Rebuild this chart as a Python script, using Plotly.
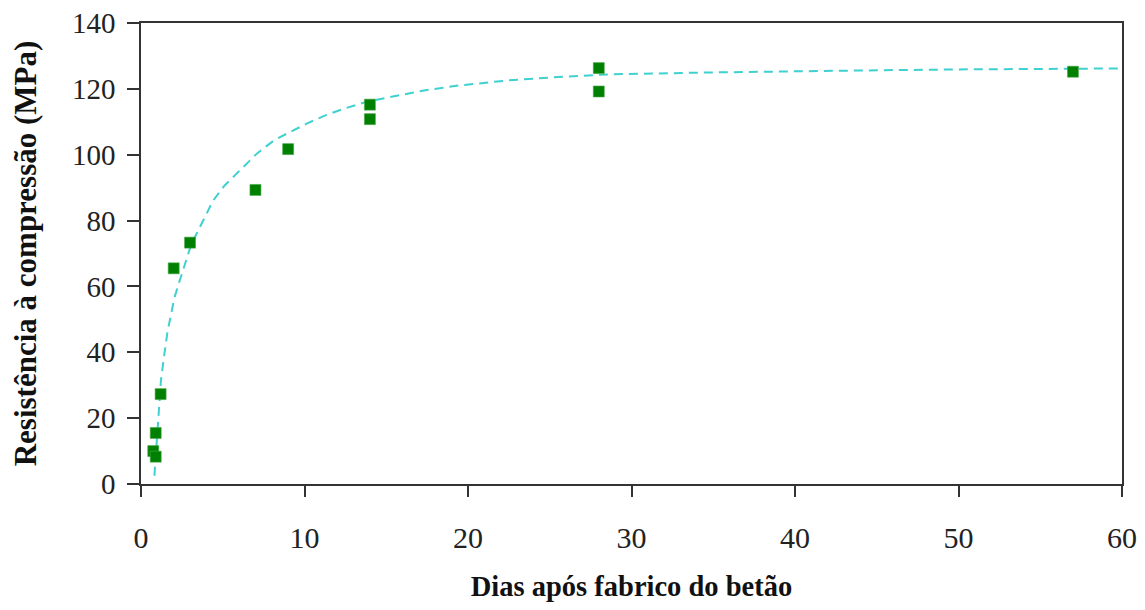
import plotly.graph_objects as go

# Measured data points
dias = [0.75, 0.9, 0.9, 1.2, 2, 3, 7, 9, 14, 14, 28, 28, 57]
resistencia = [10, 8.3, 15.5, 27.3, 65.5, 73.3, 89.3, 101.7, 115.2, 110.8, 126.3, 119.2, 125.2]

# Fitted trend curve
curva_x = [0.82, 0.98, 1.22, 1.43, 1.63, 1.84, 2.04, 2.35, 2.65, 2.96, 3.3, 3.7, 4.4, 5.1,
           6.1, 7.1, 8.2, 9.2, 10.2, 11.2, 12.3, 13.9, 15.3, 17.4, 19.4, 22.5, 25.5,
           28.6, 35, 40, 46, 50, 60]
curva_y = [2.5, 15.5, 31.5, 39.5, 46.5, 51.5, 56.5, 61.5, 66.5, 71.0, 75.0, 79.0, 86.0, 90.6,
           95.6, 100.4, 104.6, 107.1, 109.6, 111.8, 113.8, 116.2, 117.6, 119.6, 121.0, 122.6, 123.6,
           124.4, 125.0, 125.4, 125.7, 125.9, 126.2]

x_ticks = [0, 10, 20, 30, 40, 50, 60]
y_ticks = [0, 20, 40, 60, 80, 100, 120, 140]

fig = go.Figure()
fig.add_trace(go.Scatter(
    x=curva_x, y=curva_y, mode="lines",
    line=dict(color="#3FD0D0", width=2, dash="9px,6px"),
    hoverinfo="skip", showlegend=False))
fig.add_trace(go.Scatter(
    x=dias, y=resistencia, mode="markers",
    marker=dict(symbol="square", size=11, color="#008000",
                line=dict(color="#4aa84a", width=0.6)),
    showlegend=False))

serif = "Liberation Serif, Times New Roman, serif"
fig.update_layout(
    width=1129, height=594,
    margin=dict(l=133, r=15, t=15, b=118),
    paper_bgcolor="white", plot_bgcolor="white",
    font=dict(family=serif, color="#222222"),
    xaxis=dict(range=[0, 60], tickvals=x_ticks, ticktext=[str(v) for v in x_ticks],
               automargin=False, ticklabeloverflow="allow",
               showgrid=False, zeroline=False, showline=True, linecolor="#333333",
               linewidth=1.5, mirror=True, ticks="outside", ticklen=11, tickwidth=1.5,
               tickcolor="#333333", tickfont=dict(size=30, family=serif, color="#222222"),
               ticklabelstandoff=15,
               title=dict(text="<b>Dias após fabrico do betão</b>", standoff=36,
                          font=dict(size=28.5, family=serif, color="#111111"))),
    yaxis=dict(range=[0, 140], tickvals=y_ticks, ticktext=[str(v) for v in y_ticks],
               automargin=False, ticklabeloverflow="allow",
               showgrid=False, zeroline=False, showline=True, linecolor="#333333",
               linewidth=1.5, mirror=True, ticks="outside", ticklen=12, tickwidth=1.5,
               tickcolor="#333333", tickfont=dict(size=29, family=serif, color="#222222"),
               ticklabelstandoff=6,
               title=dict(text="<b>Resistência à compressão (MPa)</b>", standoff=33,
                          font=dict(size=31, family=serif, color="#111111"))),
)

fig.write_html("out.html")
